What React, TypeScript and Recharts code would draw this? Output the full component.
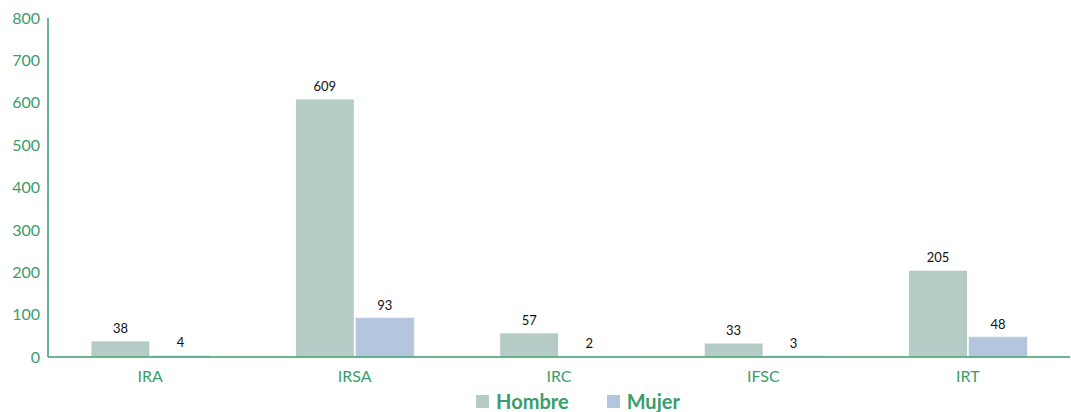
import { Bar, BarChart, LabelList, Legend, XAxis, YAxis } from 'recharts'

const categories = ['IRA', 'IRSA', 'IRC', 'IFSC', 'IRT']
const hombre = [38, 609, 57, 33, 205]
const mujer = [4, 93, 2, 3, 48]
const yTicks = [0, 100, 200, 300, 400, 500, 600, 700, 800]

const GREEN = '#3a9d6b'
const FONT = 'Lato, "Open Sans", sans-serif'

const data = categories.map((name, i) => ({ name, hombre: hombre[i], mujer: mujer[i] }))

function LegendContent() {
  const items = [
    { label: 'Hombre', color: '#b5cbc6' },
    { label: 'Mujer', color: '#b4c6de' },
  ]
  return (
    <div style={{ display: 'flex', justifyContent: 'center', gap: 38, paddingLeft: 86, height: 20 }}>
      {items.map((it) => (
        <div key={it.label} style={{ display: 'flex', alignItems: 'center', gap: 7 }}>
          <span style={{ width: 13, height: 13, background: it.color, display: 'block' }} />
          <span style={{ color: GREEN, fontWeight: 700, fontSize: 20, fontFamily: FONT, lineHeight: '20px' }}>
            {it.label}
          </span>
        </div>
      ))}
    </div>
  )
}

export default function App() {
  return (
    <div style={{ position: 'absolute', left: 0, top: 0, width: 1071, height: 412, background: '#fff' }}>
      <BarChart
        width={1071}
        height={412}
        data={data}
        margin={{ top: 18, right: 1, bottom: 0, left: 0 }}
        barCategoryGap="21%"
        barGap={1}
      >
        <XAxis
          dataKey="name"
          tickLine={false}
          axisLine={{ stroke: GREEN, strokeWidth: 1.5 }}
          tick={{ fill: GREEN, fontSize: 16, fontFamily: FONT }}
          height={34}
          tickMargin={8}
        />
        <YAxis
          domain={[0, 800]}
          ticks={yTicks}
          width={48}
          tickLine={false}
          axisLine={{ stroke: GREEN, strokeWidth: 1.5 }}
          tick={{ fill: GREEN, fontSize: 16, fontFamily: FONT }}
        />
        <Legend verticalAlign="bottom" height={21} content={<LegendContent />} />
        <Bar dataKey="hombre" fill="#b5cbc6" stroke="#fff" strokeWidth={1} isAnimationActive={false}>
          <LabelList dataKey="hombre" position="top" offset={8} fill="#111" fontSize={13} fontFamily={FONT} />
        </Bar>
        <Bar dataKey="mujer" fill="#b4c6de" stroke="#eef2f8" strokeWidth={1} isAnimationActive={false}>
          <LabelList dataKey="mujer" position="top" offset={8} fill="#111" fontSize={13} fontFamily={FONT} />
        </Bar>
      </BarChart>
    </div>
  )
}
